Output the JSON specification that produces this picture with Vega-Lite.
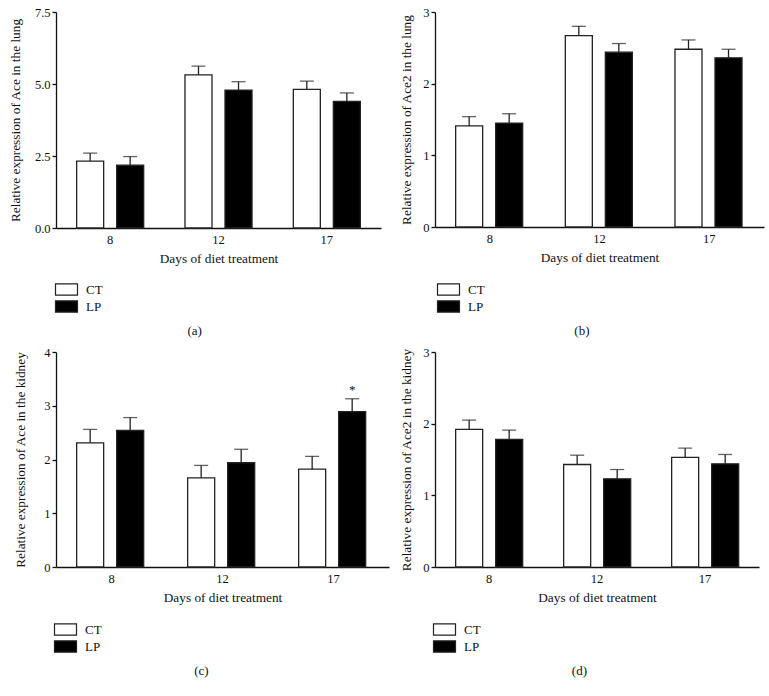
{
  "$schema": "https://vega.github.io/schema/vega-lite/v6.json",
  "background": "white",
  "padding": {"left": 8, "top": 6, "right": 5, "bottom": 5},
  "datasets": {
    "expr": [
      {"panel": "a", "day": "8", "group": "CT", "value": 2.32, "err": 2.60, "sig": ""},
      {"panel": "a", "day": "8", "group": "LP", "value": 2.18, "err": 2.48, "sig": ""},
      {"panel": "a", "day": "12", "group": "CT", "value": 5.32, "err": 5.62, "sig": ""},
      {"panel": "a", "day": "12", "group": "LP", "value": 4.79, "err": 5.08, "sig": ""},
      {"panel": "a", "day": "17", "group": "CT", "value": 4.81, "err": 5.10, "sig": ""},
      {"panel": "a", "day": "17", "group": "LP", "value": 4.40, "err": 4.69, "sig": ""},
      {"panel": "b", "day": "8", "group": "CT", "value": 1.41, "err": 1.54, "sig": ""},
      {"panel": "b", "day": "8", "group": "LP", "value": 1.45, "err": 1.58, "sig": ""},
      {"panel": "b", "day": "12", "group": "CT", "value": 2.67, "err": 2.80, "sig": ""},
      {"panel": "b", "day": "12", "group": "LP", "value": 2.44, "err": 2.56, "sig": ""},
      {"panel": "b", "day": "17", "group": "CT", "value": 2.48, "err": 2.61, "sig": ""},
      {"panel": "b", "day": "17", "group": "LP", "value": 2.36, "err": 2.48, "sig": ""},
      {"panel": "c", "day": "8", "group": "CT", "value": 2.31, "err": 2.56, "sig": ""},
      {"panel": "c", "day": "8", "group": "LP", "value": 2.54, "err": 2.78, "sig": ""},
      {"panel": "c", "day": "12", "group": "CT", "value": 1.66, "err": 1.89, "sig": ""},
      {"panel": "c", "day": "12", "group": "LP", "value": 1.94, "err": 2.19, "sig": ""},
      {"panel": "c", "day": "17", "group": "CT", "value": 1.82, "err": 2.06, "sig": ""},
      {"panel": "c", "day": "17", "group": "LP", "value": 2.89, "err": 3.13, "sig": "*"},
      {"panel": "d", "day": "8", "group": "CT", "value": 1.92, "err": 2.05, "sig": ""},
      {"panel": "d", "day": "8", "group": "LP", "value": 1.78, "err": 1.91, "sig": ""},
      {"panel": "d", "day": "12", "group": "CT", "value": 1.43, "err": 1.56, "sig": ""},
      {"panel": "d", "day": "12", "group": "LP", "value": 1.23, "err": 1.36, "sig": ""},
      {"panel": "d", "day": "17", "group": "CT", "value": 1.53, "err": 1.66, "sig": ""},
      {"panel": "d", "day": "17", "group": "LP", "value": 1.44, "err": 1.57, "sig": ""}
    ]
  },
  "config": {
    "font": "Liberation Serif",
    "view": {"stroke": null},
    "axis": {
      "grid": false,
      "domainColor": "#111",
      "domainWidth": 1.3,
      "tickColor": "#111",
      "tickWidth": 1.3,
      "tickSize": 4,
      "labelFont": "Liberation Serif",
      "labelFontSize": 12.5,
      "labelColor": "#111",
      "titleFont": "Liberation Serif",
      "titleFontSize": 13.3,
      "titleFontWeight": "normal",
      "titleColor": "#111"
    },
    "axisX": {"ticks": false, "labelAngle": 0, "labelPadding": 5, "titlePadding": 6},
    "axisY": {"labelPadding": 2, "titlePadding": 9},
    "legend": {
      "orient": "none",
      "legendY": 270,
      "direction": "vertical",
      "title": null,
      "symbolType": "M-1.6,-0.82H1.6V0.82H-1.6Z",
      "symbolSize": 189,
      "symbolStrokeColor": "#222",
      "symbolStrokeWidth": 1.2,
      "labelOffset": 12,
      "rowPadding": 0,
      "labelFont": "Liberation Serif",
      "labelFontSize": 13,
      "labelColor": "#111"
    },
    "title": {"font": "Liberation Serif", "fontSize": 13, "fontWeight": "normal", "color": "#111", "frame": "bounds"}
  },
  "columns": 2,
  "align": "none",
  "spacing": {"row": 8, "column": 10},
  "resolve": {"scale": {"fill": "independent"}, "legend": {"fill": "independent"}},
  "concat": [
    {
      "width": 325, "height": 216,
      "data": {"name": "expr"},
      "transform": [{"filter": "datum.panel === 'a'"}],
      "title": {"text": "(a)", "orient": "bottom", "offset": 10},
      "encoding": {
        "x": {"field": "day", "type": "ordinal", "sort": ["8", "12", "17"], "scale": {"paddingInner": 0, "paddingOuter": 0}, "axis": {"title": "Days of diet treatment"}},
        "xOffset": {"field": "group", "type": "nominal", "sort": ["CT", "LP"], "scale": {"paddingInner": 0.325, "paddingOuter": 0.516}}
      },
      "layer": [
        {"mark": {"type": "bar", "stroke": "#222", "strokeWidth": 1.3},
         "encoding": {
           "y": {"field": "value", "type": "quantitative", "scale": {"domain": [0, 7.5], "nice": false}, "axis": {"values": [0, 2.5, 5, 7.5], "format": ".1f", "title": "Relative expression of Ace in the lung", "titlePadding": 12}},
           "fill": {"field": "group", "type": "nominal", "scale": {"domain": ["CT", "LP"], "range": ["white", "black"]}, "legend": {"legendX": 3}}
         }},
        {"mark": {"type": "rule", "stroke": "#222", "strokeWidth": 1.3},
         "encoding": {"y": {"field": "value", "type": "quantitative"}, "y2": {"field": "err"}}},
        {"mark": {"type": "tick", "color": "#222", "thickness": 1.3, "size": 14},
         "encoding": {"y": {"field": "err", "type": "quantitative"}}}
      ]
    },
    {
      "width": 329, "height": 215,
      "data": {"name": "expr"},
      "transform": [{"filter": "datum.panel === 'b'"}],
      "title": {"text": "(b)", "orient": "bottom", "offset": 10},
      "encoding": {
        "x": {"field": "day", "type": "ordinal", "sort": ["8", "12", "17"], "scale": {"paddingInner": 0, "paddingOuter": 0}, "axis": {"title": "Days of diet treatment"}},
        "xOffset": {"field": "group", "type": "nominal", "sort": ["CT", "LP"], "scale": {"paddingInner": 0.325, "paddingOuter": 0.516}}
      },
      "layer": [
        {"mark": {"type": "bar", "stroke": "#222", "strokeWidth": 1.3},
         "encoding": {
           "y": {"field": "value", "type": "quantitative", "scale": {"domain": [0, 3], "nice": false}, "axis": {"values": [0, 1, 2, 3], "format": "d", "title": "Relative expression of Ace2 in the lung"}},
           "fill": {"field": "group", "type": "nominal", "scale": {"domain": ["CT", "LP"], "range": ["white", "black"]}, "legend": {"legendX": 6}}
         }},
        {"mark": {"type": "rule", "stroke": "#222", "strokeWidth": 1.3},
         "encoding": {"y": {"field": "value", "type": "quantitative"}, "y2": {"field": "err"}}},
        {"mark": {"type": "tick", "color": "#222", "thickness": 1.3, "size": 14},
         "encoding": {"y": {"field": "err", "type": "quantitative"}}}
      ]
    },
    {
      "width": 333, "height": 215,
      "data": {"name": "expr"},
      "transform": [{"filter": "datum.panel === 'c'"}],
      "title": {"text": "(c)", "orient": "bottom", "offset": 10},
      "encoding": {
        "x": {"field": "day", "type": "ordinal", "sort": ["8", "12", "17"], "scale": {"paddingInner": 0, "paddingOuter": 0}, "axis": {"title": "Days of diet treatment"}},
        "xOffset": {"field": "group", "type": "nominal", "sort": ["CT", "LP"], "scale": {"paddingInner": 0.325, "paddingOuter": 0.516}}
      },
      "layer": [
        {"mark": {"type": "bar", "stroke": "#222", "strokeWidth": 1.3},
         "encoding": {
           "y": {"field": "value", "type": "quantitative", "scale": {"domain": [0, 4], "nice": false}, "axis": {"values": [0, 1, 2, 3, 4], "format": "d", "title": "Relative expression of Ace in the kidney", "titlePadding": 16}},
           "fill": {"field": "group", "type": "nominal", "scale": {"domain": ["CT", "LP"], "range": ["white", "black"]}, "legend": {"legendX": 2}}
         }},
        {"mark": {"type": "rule", "stroke": "#222", "strokeWidth": 1.3},
         "encoding": {"y": {"field": "value", "type": "quantitative"}, "y2": {"field": "err"}}},
        {"mark": {"type": "tick", "color": "#222", "thickness": 1.3, "size": 14},
         "encoding": {"y": {"field": "err", "type": "quantitative"}}},
        {"mark": {"type": "text", "dy": -9, "fontSize": 13, "font": "Liberation Serif", "color": "#111"},
         "encoding": {"y": {"field": "err", "type": "quantitative"}, "text": {"field": "sig"}}}
      ]
    },
    {
      "width": 324, "height": 215,
      "data": {"name": "expr"},
      "transform": [{"filter": "datum.panel === 'd'"}],
      "title": {"text": "(d)", "orient": "bottom", "offset": 10},
      "encoding": {
        "x": {"field": "day", "type": "ordinal", "sort": ["8", "12", "17"], "scale": {"paddingInner": 0, "paddingOuter": 0}, "axis": {"title": "Days of diet treatment"}},
        "xOffset": {"field": "group", "type": "nominal", "sort": ["CT", "LP"], "scale": {"paddingInner": 0.325, "paddingOuter": 0.516}}
      },
      "layer": [
        {"mark": {"type": "bar", "stroke": "#222", "strokeWidth": 1.3},
         "encoding": {
           "y": {"field": "value", "type": "quantitative", "scale": {"domain": [0, 3], "nice": false}, "axis": {"values": [0, 1, 2, 3], "format": "d", "title": "Relative expression of Ace2 in the kidney"}},
           "fill": {"field": "group", "type": "nominal", "scale": {"domain": ["CT", "LP"], "range": ["white", "black"]}, "legend": {"legendX": 2}}
         }},
        {"mark": {"type": "rule", "stroke": "#222", "strokeWidth": 1.3},
         "encoding": {"y": {"field": "value", "type": "quantitative"}, "y2": {"field": "err"}}},
        {"mark": {"type": "tick", "color": "#222", "thickness": 1.3, "size": 14},
         "encoding": {"y": {"field": "err", "type": "quantitative"}}}
      ]
    }
  ]
}
